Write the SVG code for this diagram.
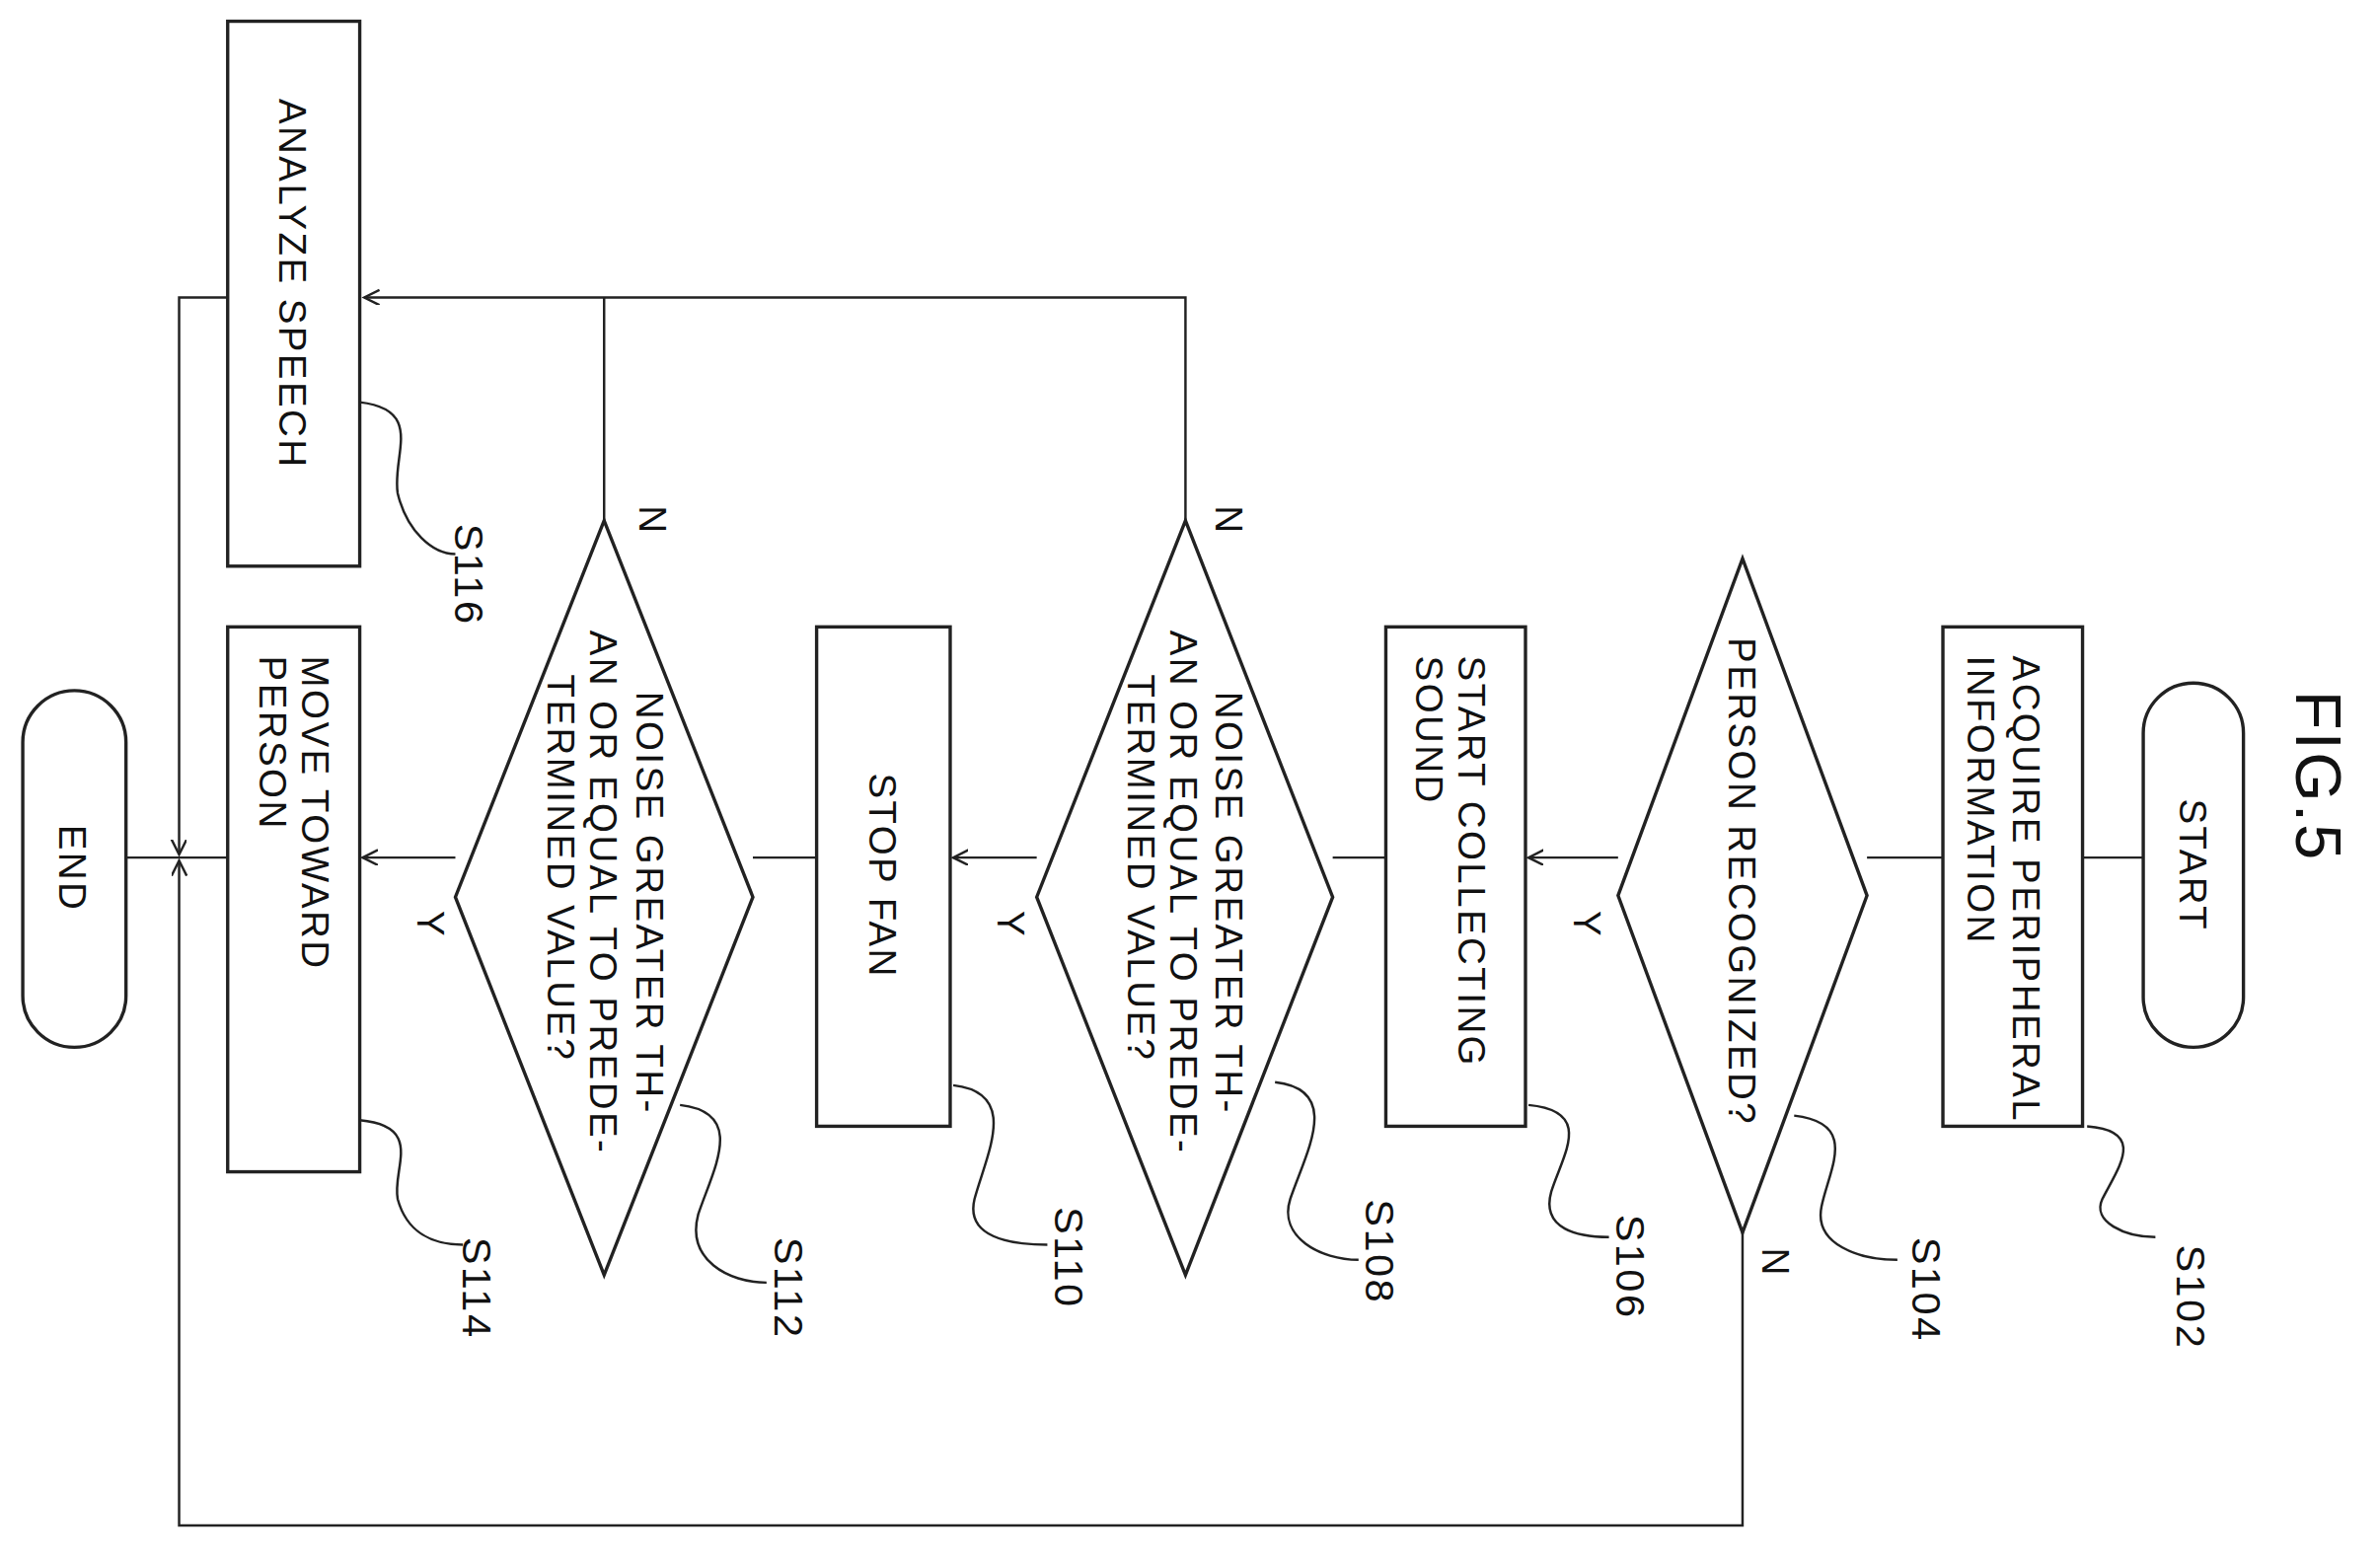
<svg xmlns="http://www.w3.org/2000/svg" width="2412" height="1581" viewBox="0 0 2412 1581">
<style>
.s{fill:#fff;stroke:#222;stroke-width:2.2}
.l{fill:none;stroke:#222;stroke-width:1.6}
text{font-family:"Liberation Sans",Arial,sans-serif;font-size:25px;letter-spacing:1.6px;fill:#111}
.m{text-anchor:middle}
.n{font-size:27px}
</style>
<defs><marker id="a" markerWidth="12" markerHeight="12" refX="10" refY="5" orient="auto" markerUnits="userSpaceOnUse"><path d="M0,0 L10,5 L0,10" fill="none" stroke="#222" stroke-width="1.6"/></marker></defs>
<rect width="2412" height="1581" fill="#fff"/>
<g transform="scale(1.5383)">
<text transform="translate(1513,455) rotate(90)" style="font-size:42px">FIG.5</text>
<g id="connectors">
<path class="l" d="M1412,565 H1372"/>
<path class="l" d="M1280,565 H1230"/>
<path class="l" d="M1066,565 H1007" marker-end="url(#a)"/>
<path class="l" d="M913,565 H878"/>
<path class="l" d="M683,565 H628" marker-end="url(#a)"/>
<path class="l" d="M538,565 H496"/>
<path class="l" d="M300,565 H239" marker-end="url(#a)"/>
<path class="l" d="M781,343 V196 H240" marker-end="url(#a)"/>
<path class="l" d="M398,343 V196"/>
<path class="l" d="M150,196 H118 V563" marker-end="url(#a)"/>
<path class="l" d="M1148,812 V1005 H118 V567" marker-end="url(#a)"/>
<path class="l" d="M150,565 H83"/>
</g>
<g id="start"><rect class="s" x="1412" y="450" width="66" height="240" rx="33"/><text class="m" transform="translate(1436,570) rotate(90)">START</text></g>
<g id="s102"><rect class="s" x="1280" y="413" width="92" height="329"/><text transform="translate(1326,432) rotate(90)">ACQUIRE PERIPHERAL</text><text transform="translate(1296,432) rotate(90)">INFORMATION</text></g>
<g id="s104"><path class="s" d="M1148,368 L1230,590 L1148,812 L1066,590 Z"/><text transform="translate(1139,420) rotate(90)">PERSON RECOGNIZED?</text></g>
<g id="s106"><rect class="s" x="913" y="413" width="92" height="329"/><text transform="translate(961,432) rotate(90)">START COLLECTING</text><text transform="translate(933,432) rotate(90)">SOUND</text></g>
<g id="s108"><path class="s" d="M781,343 L878,591 L781,840 L683,591 Z"/><text class="m" transform="translate(801,595) rotate(90)">NOISE GREATER TH-</text><text class="m" transform="translate(771,588) rotate(90)">AN OR EQUAL TO PREDE-</text><text class="m" transform="translate(743,572) rotate(90)">TERMINED VALUE?</text></g>
<g id="s110"><rect class="s" x="538" y="413" width="88" height="329"/><text class="m" transform="translate(573,577) rotate(90)">STOP FAN</text></g>
<g id="s112"><path class="s" d="M398,343 L496,591 L398,840 L300,591 Z"/><text class="m" transform="translate(419,595) rotate(90)">NOISE GREATER TH-</text><text class="m" transform="translate(389,588) rotate(90)">AN OR EQUAL TO PREDE-</text><text class="m" transform="translate(361,572) rotate(90)">TERMINED VALUE?</text></g>
<g id="s114"><rect class="s" x="150" y="413" width="87" height="359"/><text transform="translate(199,432) rotate(90)">MOVE TOWARD</text><text transform="translate(171,432) rotate(90)">PERSON</text></g>
<g id="s116"><rect class="s" x="150" y="14" width="87" height="359"/><text transform="translate(184,65) rotate(90)">ANALYZE SPEECH</text></g>
<g id="end"><rect class="s" x="15" y="455" width="68" height="235" rx="34"/><text class="m" transform="translate(39,572) rotate(90)">END</text></g>
<g id="labels">
<text transform="translate(1037,600) rotate(90)">Y</text>
<text transform="translate(657,600) rotate(90)">Y</text>
<text transform="translate(275,600) rotate(90)">Y</text>
<text transform="translate(1161,822) rotate(90)">N</text>
<text transform="translate(801,333) rotate(90)">N</text>
<text transform="translate(421,333) rotate(90)">N</text>
<text class="n" transform="translate(1434,820) rotate(90)">S102</text>
<text class="n" transform="translate(1260,815) rotate(90)">S104</text>
<text class="n" transform="translate(1065,800) rotate(90)">S106</text>
<text class="n" transform="translate(900,790) rotate(90)">S108</text>
<text class="n" transform="translate(695,795) rotate(90)">S110</text>
<text class="n" transform="translate(510,815) rotate(90)">S112</text>
<text class="n" transform="translate(305,815) rotate(90)">S114</text>
<text class="n" transform="translate(300,345) rotate(90)">S116</text>
<path class="l" d="M1375,742 C1415,745 1395,770 1385,790 C1378,805 1400,815 1420,815"/>
<path class="l" d="M1182,735 C1225,740 1205,770 1200,795 C1195,820 1225,830 1250,830"/>
<path class="l" d="M1007,728 C1050,732 1030,760 1022,785 C1015,810 1040,815 1060,815"/>
<path class="l" d="M840,713 C885,718 860,760 850,790 C842,815 870,830 895,830"/>
<path class="l" d="M628,715 C672,720 650,760 642,790 C636,815 665,820 690,820"/>
<path class="l" d="M448,728 C492,733 470,770 460,800 C452,830 480,845 505,845"/>
<path class="l" d="M237,738 C280,742 258,770 262,790 C268,812 285,820 305,820"/>
<path class="l" d="M237,265 C280,270 258,300 262,325 C268,350 285,365 300,365"/>
</g>
</g>
</svg>
